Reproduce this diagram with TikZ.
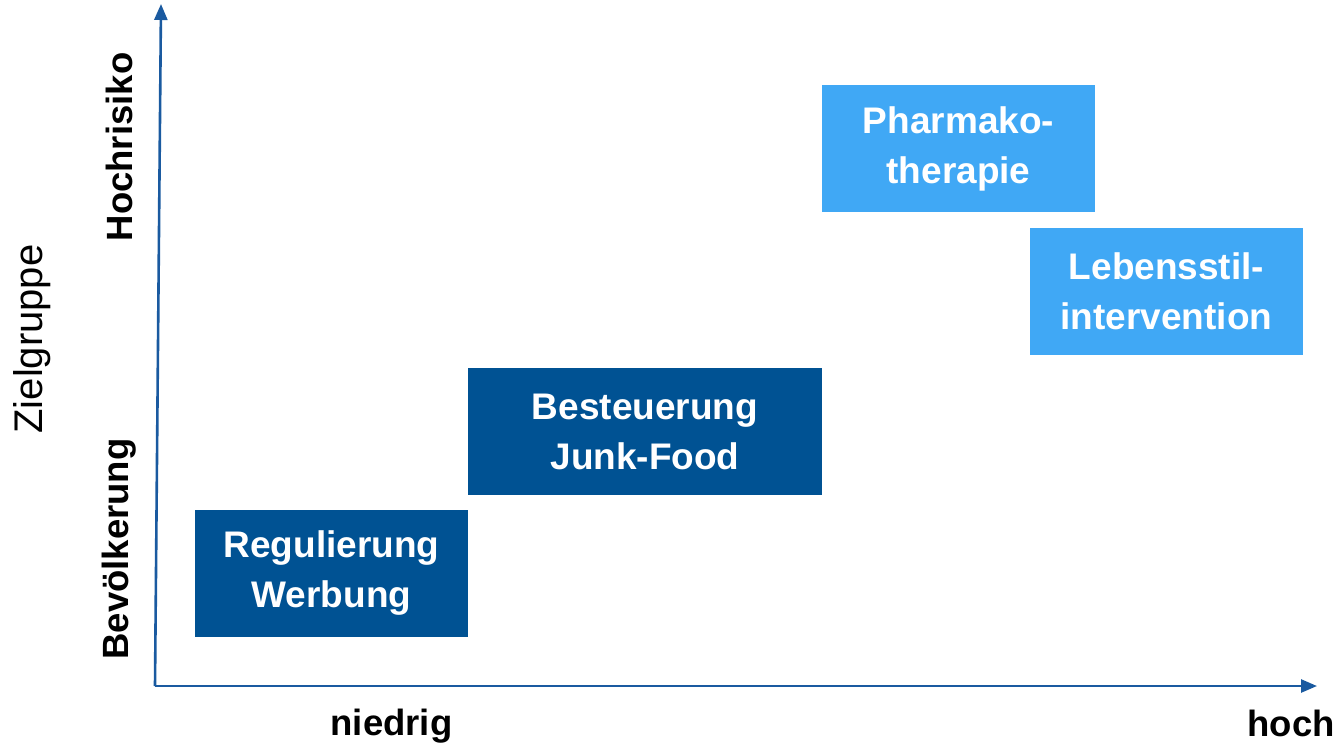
\documentclass[tikz,border=0pt]{standalone}
\usepackage{fontspec}
\setmainfont{Liberation Sans}
\usetikzlibrary{arrows.meta}
\definecolor{dblue}{HTML}{005293}
\definecolor{lblue}{HTML}{40A8F5}
\definecolor{axisblue}{HTML}{1A5AA0}
\tikzset{
  box/.style={rectangle, inner sep=0pt, align=center, text=white, font=\fontsize{37}{50}\selectfont\bfseries},
  darkbox/.style={box, fill=dblue},
  lightbox/.style={box, fill=lblue},
  axis/.style={draw=axisblue, line width=2.6pt, -{Triangle[length=16pt,width=13pt]}},
  lab/.style={inner sep=0pt, font=\fontsize{36.5}{40}\selectfont\bfseries},
}
\begin{document}
\begin{tikzpicture}[x=1pt,y=-1pt]
\useasboundingbox (0,0) rectangle (1338,747);
\coordinate (o) at (155,686);
\coordinate (ytop) at (161,4);
\coordinate (xend) at (1317,686);
\draw[axis] (o) -- (ytop);
\draw[axis] (o) -- (xend);
\node[darkbox, minimum width=273pt, minimum height=127pt] (reg) at (331.5,573.5) {Regulierung\\Werbung};
\node[darkbox, minimum width=354pt, minimum height=127pt] (best) at (645,431.5) {Besteuerung\\Junk-Food};
\node[lightbox, minimum width=273pt, minimum height=127pt] (pharm) at (958.5,148.5) {Pharmako-\\therapie};
\node[lightbox, minimum width=273pt, minimum height=127pt] (leb) at (1166.5,291.5) {Lebensstil-\\intervention};
\node[lab] (nied) at (391.5,726) {niedrig};
\node[lab] (hoch) at (1291,723) {hoch};
\node[lab, rotate=90] (hr) at (119,147) {Hochrisiko};
\node[lab, rotate=90] (bev) at (119,549) {Bevölkerung};
\node[inner sep=0pt, rotate=90, font=\fontsize{40}{44}\selectfont] (zg) at (32,339) {Zielgruppe};
\end{tikzpicture}
\end{document}
